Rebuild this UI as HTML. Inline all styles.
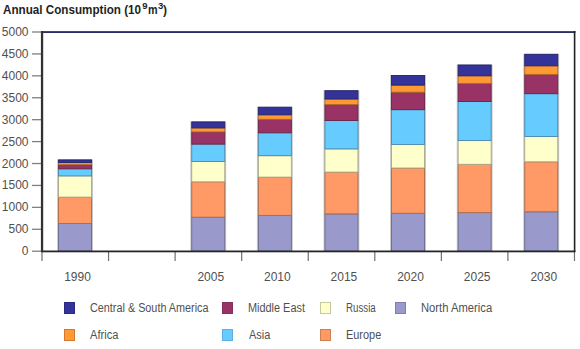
<!DOCTYPE html>
<html><head><meta charset="utf-8"><style>
html,body{margin:0;padding:0;background:#fff;}
body{width:580px;height:349px;position:relative;overflow:hidden;font-family:"Liberation Sans",sans-serif;color:#505050;}
svg{position:absolute;left:0;top:0;}
.title{position:absolute;top:2px;transform-origin:0 0;font-weight:bold;font-size:12px;line-height:16px;color:#231f20;white-space:nowrap;}
.title sup{font-size:8px;vertical-align:0;position:relative;top:-5px;}
.yl{position:absolute;left:0;width:28.5px;text-align:right;font-size:12px;line-height:16px;white-space:nowrap;}
.xl{position:absolute;top:269px;width:40px;text-align:center;font-size:12px;line-height:16px;}
.sw{position:absolute;width:9px;height:9.4px;border:1px solid;}
.lt{position:absolute;font-size:12px;line-height:16px;white-space:nowrap;transform-origin:0 0;}
</style></head><body>
<div class="title" style="left:3px;transform:scaleX(0.972)">Annual Consumption (10</div>
<div class="title" style="left:142.3px;top:-1.8px;font-size:9.5px">9</div>
<div class="title" style="left:147.9px;transform:scaleX(0.9)">m</div>
<div class="title" style="left:157.9px;top:-1.8px;font-size:9.5px">3</div>
<div class="title" style="left:163px">)</div>
<svg width="580" height="349" viewBox="0 0 580 349">
<rect x="57.15" y="159.40" width="35.80" height="91.80" fill="#c4c4c4"/>
<rect x="58.55" y="223.50" width="33.00" height="27.70" fill="#9999cc" stroke="#6a6a90" stroke-width="0.9"/>
<rect x="58.55" y="197.10" width="33.00" height="26.40" fill="#ff9966" stroke="#b06a48" stroke-width="0.9"/>
<rect x="58.55" y="175.90" width="33.00" height="21.20" fill="#ffffcc" stroke="#a8a888" stroke-width="0.9"/>
<rect x="58.55" y="168.80" width="33.00" height="7.10" fill="#66ccff" stroke="#4a8ab0" stroke-width="0.9"/>
<rect x="58.55" y="164.70" width="33.00" height="4.10" fill="#993366" stroke="#6a2448" stroke-width="0.9"/>
<rect x="58.55" y="162.50" width="33.00" height="2.20" fill="#ff9933" stroke="#b06a28" stroke-width="0.9"/>
<rect x="58.55" y="159.90" width="33.00" height="2.60" fill="#333399" stroke="#24246a" stroke-width="0.9"/>
<rect x="190.35" y="121.40" width="35.80" height="129.80" fill="#c4c4c4"/>
<rect x="191.75" y="217.20" width="33.00" height="34.00" fill="#9999cc" stroke="#6a6a90" stroke-width="0.9"/>
<rect x="191.75" y="181.80" width="33.00" height="35.40" fill="#ff9966" stroke="#b06a48" stroke-width="0.9"/>
<rect x="191.75" y="161.50" width="33.00" height="20.30" fill="#ffffcc" stroke="#a8a888" stroke-width="0.9"/>
<rect x="191.75" y="144.10" width="33.00" height="17.40" fill="#66ccff" stroke="#4a8ab0" stroke-width="0.9"/>
<rect x="191.75" y="131.90" width="33.00" height="12.20" fill="#993366" stroke="#6a2448" stroke-width="0.9"/>
<rect x="191.75" y="127.90" width="33.00" height="4.00" fill="#ff9933" stroke="#b06a28" stroke-width="0.9"/>
<rect x="191.75" y="121.90" width="33.00" height="6.00" fill="#333399" stroke="#24246a" stroke-width="0.9"/>
<rect x="256.95" y="106.70" width="35.80" height="144.50" fill="#c4c4c4"/>
<rect x="258.35" y="215.40" width="33.00" height="35.80" fill="#9999cc" stroke="#6a6a90" stroke-width="0.9"/>
<rect x="258.35" y="177.10" width="33.00" height="38.30" fill="#ff9966" stroke="#b06a48" stroke-width="0.9"/>
<rect x="258.35" y="155.70" width="33.00" height="21.40" fill="#ffffcc" stroke="#a8a888" stroke-width="0.9"/>
<rect x="258.35" y="132.80" width="33.00" height="22.90" fill="#66ccff" stroke="#4a8ab0" stroke-width="0.9"/>
<rect x="258.35" y="119.30" width="33.00" height="13.50" fill="#993366" stroke="#6a2448" stroke-width="0.9"/>
<rect x="258.35" y="114.80" width="33.00" height="4.50" fill="#ff9933" stroke="#b06a28" stroke-width="0.9"/>
<rect x="258.35" y="107.20" width="33.00" height="7.60" fill="#333399" stroke="#24246a" stroke-width="0.9"/>
<rect x="323.55" y="90.20" width="35.80" height="161.00" fill="#c4c4c4"/>
<rect x="324.95" y="213.90" width="33.00" height="37.30" fill="#9999cc" stroke="#6a6a90" stroke-width="0.9"/>
<rect x="324.95" y="172.10" width="33.00" height="41.80" fill="#ff9966" stroke="#b06a48" stroke-width="0.9"/>
<rect x="324.95" y="148.90" width="33.00" height="23.20" fill="#ffffcc" stroke="#a8a888" stroke-width="0.9"/>
<rect x="324.95" y="120.50" width="33.00" height="28.40" fill="#66ccff" stroke="#4a8ab0" stroke-width="0.9"/>
<rect x="324.95" y="104.60" width="33.00" height="15.90" fill="#993366" stroke="#6a2448" stroke-width="0.9"/>
<rect x="324.95" y="99.00" width="33.00" height="5.60" fill="#ff9933" stroke="#b06a28" stroke-width="0.9"/>
<rect x="324.95" y="90.70" width="33.00" height="8.30" fill="#333399" stroke="#24246a" stroke-width="0.9"/>
<rect x="390.15" y="75.00" width="35.80" height="176.20" fill="#c4c4c4"/>
<rect x="391.55" y="213.30" width="33.00" height="37.90" fill="#9999cc" stroke="#6a6a90" stroke-width="0.9"/>
<rect x="391.55" y="168.00" width="33.00" height="45.30" fill="#ff9966" stroke="#b06a48" stroke-width="0.9"/>
<rect x="391.55" y="144.40" width="33.00" height="23.60" fill="#ffffcc" stroke="#a8a888" stroke-width="0.9"/>
<rect x="391.55" y="109.70" width="33.00" height="34.70" fill="#66ccff" stroke="#4a8ab0" stroke-width="0.9"/>
<rect x="391.55" y="92.20" width="33.00" height="17.50" fill="#993366" stroke="#6a2448" stroke-width="0.9"/>
<rect x="391.55" y="85.10" width="33.00" height="7.10" fill="#ff9933" stroke="#b06a28" stroke-width="0.9"/>
<rect x="391.55" y="75.50" width="33.00" height="9.60" fill="#333399" stroke="#24246a" stroke-width="0.9"/>
<rect x="456.75" y="64.50" width="35.80" height="186.70" fill="#c4c4c4"/>
<rect x="458.15" y="212.60" width="33.00" height="38.60" fill="#9999cc" stroke="#6a6a90" stroke-width="0.9"/>
<rect x="458.15" y="164.30" width="33.00" height="48.30" fill="#ff9966" stroke="#b06a48" stroke-width="0.9"/>
<rect x="458.15" y="140.50" width="33.00" height="23.80" fill="#ffffcc" stroke="#a8a888" stroke-width="0.9"/>
<rect x="458.15" y="101.50" width="33.00" height="39.00" fill="#66ccff" stroke="#4a8ab0" stroke-width="0.9"/>
<rect x="458.15" y="83.40" width="33.00" height="18.10" fill="#993366" stroke="#6a2448" stroke-width="0.9"/>
<rect x="458.15" y="75.80" width="33.00" height="7.60" fill="#ff9933" stroke="#b06a28" stroke-width="0.9"/>
<rect x="458.15" y="65.00" width="33.00" height="10.80" fill="#333399" stroke="#24246a" stroke-width="0.9"/>
<rect x="523.35" y="53.80" width="35.80" height="197.40" fill="#c4c4c4"/>
<rect x="524.75" y="211.80" width="33.00" height="39.40" fill="#9999cc" stroke="#6a6a90" stroke-width="0.9"/>
<rect x="524.75" y="161.80" width="33.00" height="50.00" fill="#ff9966" stroke="#b06a48" stroke-width="0.9"/>
<rect x="524.75" y="136.50" width="33.00" height="25.30" fill="#ffffcc" stroke="#a8a888" stroke-width="0.9"/>
<rect x="524.75" y="93.70" width="33.00" height="42.80" fill="#66ccff" stroke="#4a8ab0" stroke-width="0.9"/>
<rect x="524.75" y="74.40" width="33.00" height="19.30" fill="#993366" stroke="#6a2448" stroke-width="0.9"/>
<rect x="524.75" y="65.80" width="33.00" height="8.60" fill="#ff9933" stroke="#b06a28" stroke-width="0.9"/>
<rect x="524.75" y="54.30" width="33.00" height="11.50" fill="#333399" stroke="#24246a" stroke-width="0.9"/>
<rect x="32" y="31.35" width="10" height="1.3" fill="#808080"/>
<rect x="32" y="53.27" width="10" height="1.3" fill="#808080"/>
<rect x="32" y="75.19" width="10" height="1.3" fill="#808080"/>
<rect x="32" y="97.11" width="10" height="1.3" fill="#808080"/>
<rect x="32" y="119.03" width="10" height="1.3" fill="#808080"/>
<rect x="32" y="140.95" width="10" height="1.3" fill="#808080"/>
<rect x="32" y="162.87" width="10" height="1.3" fill="#808080"/>
<rect x="32" y="184.79" width="10" height="1.3" fill="#808080"/>
<rect x="32" y="206.71" width="10" height="1.3" fill="#808080"/>
<rect x="32" y="228.63" width="10" height="1.3" fill="#808080"/>
<rect x="32" y="250.55" width="10" height="1.3" fill="#808080"/>
<rect x="41.40" y="251.5" width="1.2" height="9.5" fill="#707070"/>
<rect x="107.96" y="251.5" width="1.2" height="9.5" fill="#707070"/>
<rect x="174.52" y="251.5" width="1.2" height="9.5" fill="#707070"/>
<rect x="241.08" y="251.5" width="1.2" height="9.5" fill="#707070"/>
<rect x="307.64" y="251.5" width="1.2" height="9.5" fill="#707070"/>
<rect x="374.20" y="251.5" width="1.2" height="9.5" fill="#707070"/>
<rect x="440.76" y="251.5" width="1.2" height="9.5" fill="#707070"/>
<rect x="507.32" y="251.5" width="1.2" height="9.5" fill="#707070"/>
<rect x="573.88" y="251.5" width="1.2" height="9.5" fill="#707070"/>
<rect x="41" y="31" width="534.4" height="1" fill="#4a4a4a"/>
<rect x="41" y="32" width="534.4" height="1" fill="#2c2c64"/>
<rect x="41" y="250.5" width="534.4" height="1.8" fill="#262626"/>
<rect x="40.9" y="31" width="2.3" height="220.8" fill="#333"/>
<rect x="573.8" y="31" width="1.6" height="220.8" fill="#222"/>
</svg>
<div class="yl" style="top:24.00px">5000</div>
<div class="yl" style="top:45.92px">4500</div>
<div class="yl" style="top:67.84px">4000</div>
<div class="yl" style="top:89.76px">3500</div>
<div class="yl" style="top:111.68px">3000</div>
<div class="yl" style="top:133.60px">2500</div>
<div class="yl" style="top:155.52px">2000</div>
<div class="yl" style="top:177.44px">1500</div>
<div class="yl" style="top:199.36px">1000</div>
<div class="yl" style="top:221.28px">500</div>
<div class="yl" style="top:243.20px">0</div>
<div class="xl" style="left:57.55px">1990</div>
<div class="xl" style="left:190.75px">2005</div>
<div class="xl" style="left:257.35px">2010</div>
<div class="xl" style="left:323.95px">2015</div>
<div class="xl" style="left:390.55px">2020</div>
<div class="xl" style="left:457.15px">2025</div>
<div class="xl" style="left:523.75px">2030</div>
<div class="sw" style="left:63.9px;top:302.2px;background:#333399;border-color:#2a2a80"></div>
<div class="lt" style="left:90.3px;top:299.7px;transform:scaleX(0.902)">Central &amp; South America</div>
<div class="sw" style="left:221.9px;top:302.2px;background:#993366;border-color:#80305a"></div>
<div class="lt" style="left:248.4px;top:299.7px;transform:scaleX(0.908)">Middle East</div>
<div class="sw" style="left:319.9px;top:302.2px;background:#ffffcc;border-color:#c8c8a0"></div>
<div class="lt" style="left:345.9px;top:299.7px;transform:scaleX(0.81)">Russia</div>
<div class="sw" style="left:394.9px;top:302.2px;background:#9999cc;border-color:#8080b0"></div>
<div class="lt" style="left:420.9px;top:299.7px;transform:scaleX(0.936)">North America</div>
<div class="sw" style="left:63.9px;top:329.2px;background:#ff9933;border-color:#d07830"></div>
<div class="lt" style="left:90.2px;top:326.7px;transform:scaleX(0.927)">Africa</div>
<div class="sw" style="left:221.9px;top:329.2px;background:#66ccff;border-color:#5ab0e0"></div>
<div class="lt" style="left:249px;top:326.7px;transform:scaleX(0.91)">Asia</div>
<div class="sw" style="left:319.9px;top:329.2px;background:#ff9966;border-color:#d08050"></div>
<div class="lt" style="left:345.8px;top:326.7px;transform:scaleX(0.91)">Europe</div>
</body></html>
